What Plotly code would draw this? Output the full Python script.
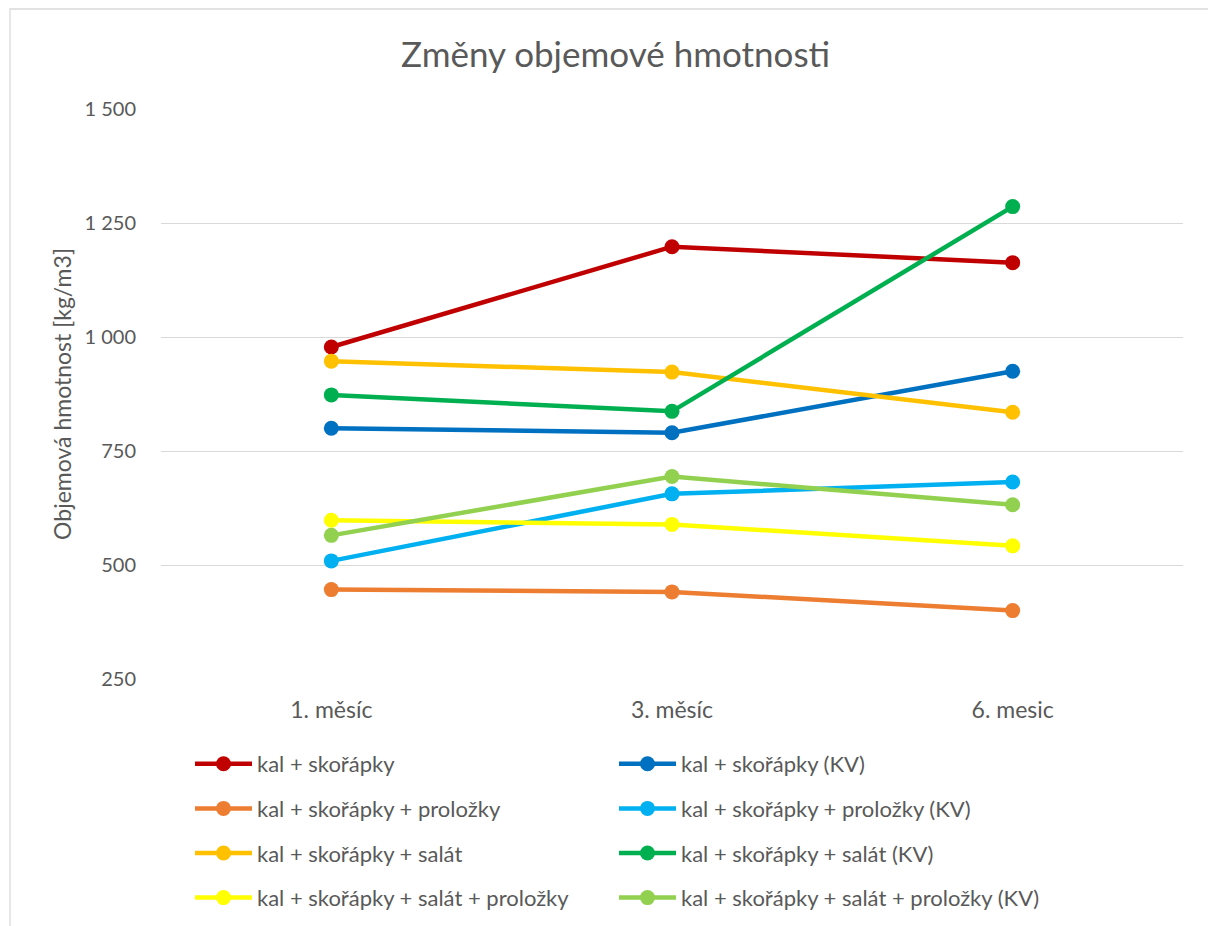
import plotly.graph_objects as go

categories = ["1. měsíc", "3. měsíc", "6. mesic"]

series_names = [
    "kal + skořápky",
    "kal + skořápky (KV)",
    "kal + skořápky + proložky",
    "kal + skořápky + proložky (KV)",
    "kal + skořápky + salát",
    "kal + skořápky + salát (KV)",
    "kal + skořápky + salát + proložky",
    "kal + skořápky + salát + proložky (KV)",
]

kal_skorapky = [978, 1198, 1163]
kal_skorapky_kv = [800, 790, 925]
kal_skorapky_prolozky = [446, 441, 400]
kal_skorapky_prolozky_kv = [509, 656, 682]
kal_skorapky_salat = [947, 923, 835]
kal_skorapky_salat_kv = [873, 837, 1286]
kal_skorapky_salat_prolozky = [598, 589, 542]
kal_skorapky_salat_prolozky_kv = [565, 694, 632]

series_values = [
    kal_skorapky, kal_skorapky_kv,
    kal_skorapky_prolozky, kal_skorapky_prolozky_kv,
    kal_skorapky_salat, kal_skorapky_salat_kv,
    kal_skorapky_salat_prolozky, kal_skorapky_salat_prolozky_kv,
]

colors = ["#C00000", "#0070C0", "#ED7D31", "#00B0F0",
          "#FFC000", "#00B050", "#FFFF00", "#92D050"]

y_ticks = [250, 500, 750, 1000, 1250, 1500]

FONT = "Lato, 'Open Sans', sans-serif"
GRAY = "#595959"

fig = go.Figure()
for i, (name, vals, col) in enumerate(zip(series_names, series_values, colors)):
    fig.add_trace(go.Scatter(
        x=categories, y=vals, name=name, mode="lines+markers",
        line=dict(color=col, width=4.5),
        marker=dict(color=col, size=15),
        legend="legend" if i % 2 == 0 else "legend2",
        legendgroup=f"g{i}",
    ))

# page body has an 8px default margin; work in screen coordinates
OFF = 8
W, H = 1216 - OFF, 926 - OFF
L, R, T, B = 161 - OFF, 1216 - 1183, 109 - OFF, 926 - 679
pw, ph = W - L - R, H - T - B

def px_x(x):
    return (x - OFF - L) / pw

def px_y(y):
    return (H - B - (y - OFF)) / ph

legend_common = dict(
    orientation="v", yanchor="top", xanchor="left",
    font=dict(family=FONT, size=22, color=GRAY),
    bgcolor="rgba(0,0,0,0)", tracegroupgap=13, itemwidth=57,
)

fig.update_layout(
    width=W, height=H,
    margin=dict(l=L, r=R, t=T, b=B, autoexpand=False),
    paper_bgcolor="white", plot_bgcolor="white",
    separators=", ",
    title=dict(text="Změny objemové hmotnosti", x=0.503, xanchor="center",
               y=1 - (55 - OFF) / H, yanchor="middle",
               font=dict(family=FONT, size=35, color=GRAY)),
    xaxis=dict(type="category", range=[-0.5, 2.5], showgrid=False,
               showline=False, ticks="", zeroline=False, automargin=False,
               ticklabelstandoff=15,
               tickfont=dict(family=FONT, size=23, color=GRAY)),
    yaxis=dict(range=[250, 1500], tickvals=y_ticks, tickformat=",d",
               showgrid=True, gridcolor="#D9D9D9", gridwidth=1.3,
               zeroline=False, showline=False, ticks="", automargin=False,
               ticklabelstandoff=24,
               tickfont=dict(family=FONT, size=20, color=GRAY),
               title=dict(text="Objemová hmotnost [kg/m3]", standoff=6,
                          font=dict(family=FONT, size=23, color=GRAY))),
    legend=dict(x=px_x(190), y=px_y(743), **legend_common),
    legend2=dict(x=px_x(614), y=px_y(743), **legend_common),
    shapes=[dict(type="rect", xref="paper", yref="paper",
                 x0=px_x(10), x1=px_x(1209), y0=px_y(935), y1=px_y(9),
                 line=dict(color="#D9D9D9", width=1.3), fillcolor="rgba(0,0,0,0)",
                 layer="below")],
)

fig.write_html("out.html")
